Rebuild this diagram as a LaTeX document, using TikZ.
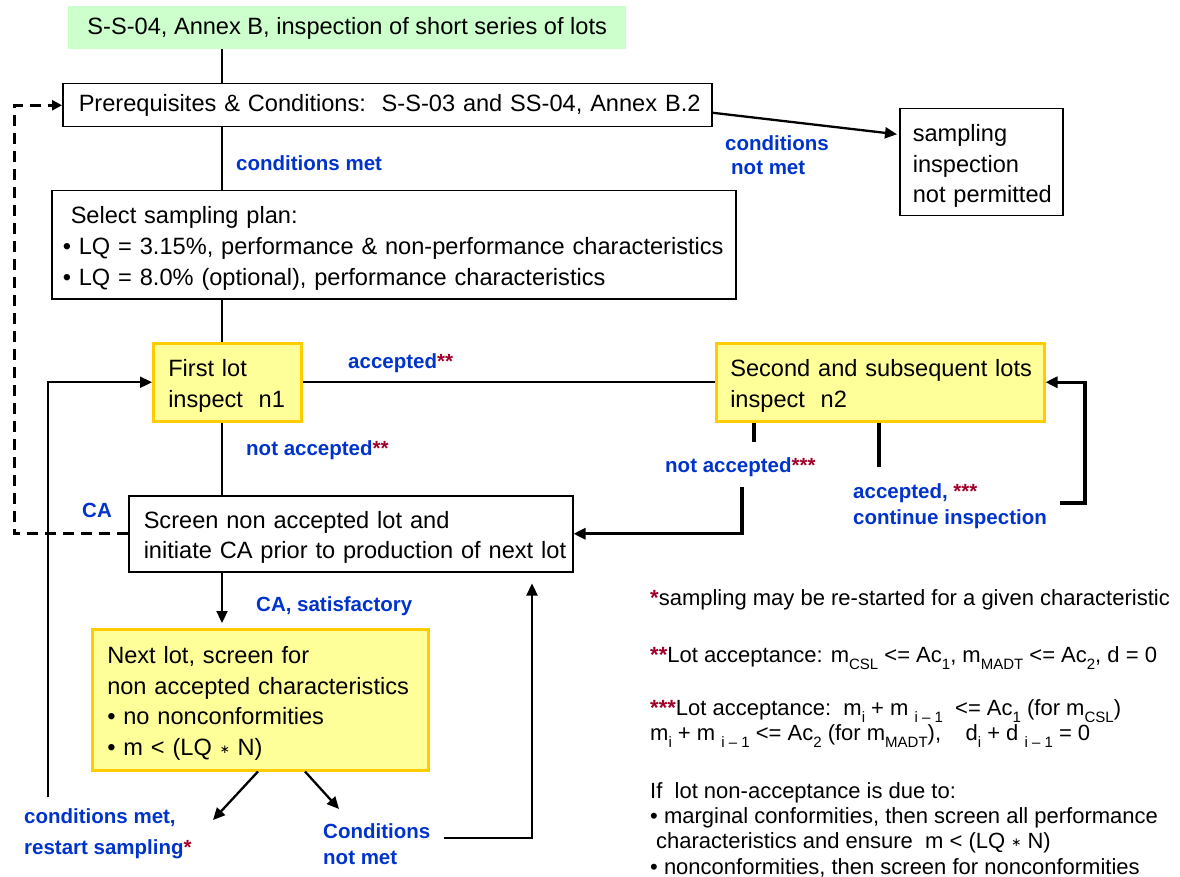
\documentclass[tikz,border=0pt]{standalone}
\usepackage{fontspec}
\setmainfont{Liberation Sans}
\newfontfamily\dejavu{DejaVu Sans}
\usetikzlibrary{arrows.meta}
\definecolor{lblue}{HTML}{0033CC}
\definecolor{lred}{HTML}{A0002A}
\definecolor{yfill}{HTML}{FFFF99}
\definecolor{ydraw}{HTML}{FFCC00}
\definecolor{gfill}{HTML}{CCFFCC}
\newcommand{\rs}[1]{\textcolor{lred}{\bfseries #1}}
\newcommand{\sbs}[1]{\raisebox{-0.3em}{\fontsize{15}{15}\selectfont #1}}
\newcommand{\mst}{\raisebox{2pt}{\dejavu\fontsize{12}{12}\selectfont ∗}}
\newcommand{\tstr}{\rule{0pt}{24.5pt}}
\begin{document}
\begin{tikzpicture}[x=1pt,y=-1pt,
  boxtext/.style={font=\fontsize{23.6}{30.6}\selectfont},
  wbox/.style={boxtext, draw=black, line width=1.5pt, fill=white, anchor=north west, inner ysep=0pt, align=left},
  ybox/.style={wbox, draw=ydraw, line width=2.5pt, fill=yfill},
  lbl/.style={font=\fontsize{20.5}{26}\selectfont\bfseries, text=lblue, inner sep=0pt, anchor=west, align=left},
  foot/.style={font=\fontsize{22}{25}\selectfont, inner sep=0pt, anchor=west, align=left},
  line/.style={draw=black, line width=2.3pt},
  tline/.style={draw=black, line width=3.2pt},
  arr/.style={line, -{Triangle[length=12pt,width=11pt]}},
  tarr/.style={tline, -{Triangle[length=12pt,width=11pt]}},
  darr/.style={draw=black, line width=3pt, dash pattern=on 11pt off 7pt, -{Triangle[length=10pt,width=10pt]}}
]
\useasboundingbox (0,0) rectangle (1180,877);

% boxes
\node[boxtext, fill=gfill, anchor=north west, minimum width=558pt, minimum height=43pt, inner sep=0pt, align=center] (top) at (68,6) {\mbox{\rule{0pt}{19pt}S-S-04, Annex B, inspection of short series of lots}};
\node[wbox, minimum width=649pt, minimum height=43pt, inner xsep=16pt, text width=617pt] (prereq) at (62,83) {\mbox{Prerequisites \& Conditions:\ \ S-S-03 and SS-04, Annex B.2}};
\node[wbox, minimum width=163pt, minimum height=107pt, inner xsep=13pt, text width=137pt] (notperm) at (899,108) {\mbox{\tstr sampling}\\\mbox{inspection}\\\mbox{not permitted}};
\node[wbox, minimum width=684pt, minimum height=108pt, inner xsep=11pt, text width=662pt] (select) at (51,190) {\mbox{\tstr\hspace*{8pt}Select sampling plan:}\\\mbox{• LQ = 3.15\%, performance \& non-performance characteristics}\\\mbox{• LQ = 8.0\% (optional), performance characteristics}};
\node[ybox, minimum width=148pt, minimum height=78pt, inner xsep=15pt, text width=118pt] (first) at (152,342) {\mbox{\tstr First lot}\\\mbox{inspect\ \ n1}};
\node[ybox, minimum width=328pt, minimum height=78pt, inner xsep=14pt, text width=300pt] (second) at (715,342) {\mbox{\tstr Second and subsequent lots}\\\mbox{inspect\ \ n2}};
\node[wbox, minimum width=444pt, minimum height=76pt, inner xsep=15pt, text width=414pt] (screen) at (128,495) {\mbox{\tstr Screen non accepted lot and}\\\mbox{initiate CA prior to production of next lot}};
\node[ybox, minimum width=336pt, minimum height=141pt, inner xsep=15pt, text width=306pt] (nextlot) at (91,628) {\mbox{\tstr Next lot, screen for}\\\mbox{non accepted characteristics}\\\mbox{• no nonconformities}\\\mbox{• m < (LQ \mst{} N)}};

% helper coordinates
\coordinate (mx) at (222,0);
\coordinate (s1x) at (754,0);
\coordinate (s1e) at (754,442);
\coordinate (s2x) at (879,0);
\coordinate (s2e) at (879,467);
\coordinate (nas) at (742,487);
\coordinate (acs) at (1060,503);
\coordinate (rl) at (1085,503);
\coordinate (ll) at (48,797);
\coordinate (dl) at (14,0);
\coordinate (b1) at (258,0);
\coordinate (e1) at (213,820);
\coordinate (b2) at (305,0);
\coordinate (e2) at (339,809);
\coordinate (cn) at (444,838);
\coordinate (ux) at (532,0);

% connectors
\draw[line] (top.south -| mx) -- (prereq.north -| mx);
\draw[arr] ([yshift=-7.5pt]prereq.east) -- ([xshift=-2pt,yshift=28pt]notperm.west);
\draw[line] (prereq.south -| mx) -- (select.north -| mx);
\draw[line] (select.south -| mx) -- (first.north -| mx);
\draw[line] (first.east) -- (first.east -| second.west);
\draw[line] (first.south -| mx) -- (screen.north -| mx);
\draw[tline] (second.south -| s1x) -- (s1e);
\draw[tline] (second.south -| s2x) -- (s2e);
\draw[tarr] (nas) |- (screen.east);
\draw[tarr] (acs) -- (rl) |- (second.east);
\draw[arr] (ll) |- (first.west);
\draw[darr] (screen.west) -- (dl |- screen.west) |- (prereq.west);
\draw[arr] (screen.south -| mx) -- ([yshift=5pt]nextlot.north -| mx);
\draw[arr] (nextlot.south -| b1) -- (e1);
\draw[arr] (nextlot.south -| b2) -- (e2);
\draw[arr] (cn) -| ([yshift=-11pt]screen.south -| ux);

% labels
\node[lbl] (lcm) at (236,163) {conditions met};
\node[lbl, font=\fontsize{20.5}{24}\selectfont\bfseries] (lcnm) at (725,155) {conditions\\\hspace*{6pt}not met};
\node[lbl] (lacc) at (348,363) {accepted\rs{**}};
\node[lbl] (lna) at (246,450) {not accepted\rs{**}};
\node[lbl] (lca) at (82,510) {CA};
\node[lbl] (lna3) at (665,467) {not accepted\rs{***}};
\node[lbl] (lacc3) at (853,506) {accepted, \rs{***}\\continue inspection};
\node[lbl] (lcas) at (256,606) {CA, satisfactory};
\node[lbl, font=\fontsize{20.5}{31}\selectfont\bfseries] (lrs) at (24,834) {conditions met,\\restart sampling\rs{*}};
\node[lbl] (lcn) at (323,844) {Conditions\\not met};

% footnotes
\node[foot] (f1) at (650,600) {\rs{*}sampling may be re-started for a given characteristic};
\node[foot] (f2) at (650,658) {\rs{**}Lot acceptance: m\sbs{CSL} <= Ac\sbs{1}, m\sbs{MADT} <= Ac\sbs{2}, d = 0};
\node[foot] (f3) at (650,711) {\rs{***}Lot acceptance:\ \ m\sbs{i} + m \sbs{i – 1}\ \ <= Ac\sbs{1} (for m\sbs{CSL})};
\node[foot] (f4) at (650,736) {m\sbs{i} + m \sbs{i – 1} <= Ac\sbs{2} (for m\sbs{MADT}),\ \ \ \ d\sbs{i} + d \sbs{i – 1} = 0};
\node[foot] (f5) at (650,793) {If\ \ lot non-acceptance is due to:};
\node[foot] (f6) at (650,818) {• marginal conformities, then screen all performance};
\node[foot] (f7) at (650,843) {\hspace*{6pt}characteristics and ensure\ \ m < (LQ \mst{} N)};
\node[foot] (f8) at (650,868) {• nonconformities, then screen for nonconformities};
\end{tikzpicture}
\end{document}
